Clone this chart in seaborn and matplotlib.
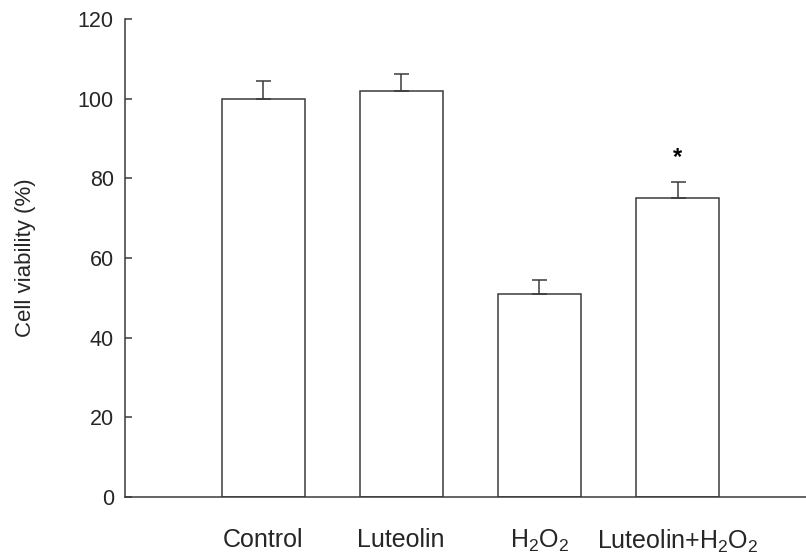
import matplotlib
matplotlib.use("Agg")
import matplotlib.pyplot as plt
import seaborn as sns
import pandas as pd
import numpy as np

categories = ["Control", "Luteolin", "H$_2$O$_2$", "Luteolin+H$_2$O$_2$"]
viability = [100.0, 102.0, 51.0, 75.0]
sem = [4.5, 4.2, 3.5, 4.2]
significance = ["", "", "", "*"]
yticks = [0, 20, 40, 60, 80, 100, 120]

sns.set_theme(style="white")
plt.rcParams["font.family"] = ["Liberation Sans", "DejaVu Sans"]
plt.rcParams["mathtext.fontset"] = "custom"
plt.rcParams["mathtext.rm"] = "Liberation Sans"
plt.rcParams["mathtext.it"] = "Liberation Sans"
plt.rcParams["mathtext.default"] = "regular"

line_col = "#3a3a3a"

df = pd.DataFrame({"group": categories, "viability": viability})

fig = plt.figure(figsize=(8.06, 5.57), dpi=100)
ax = fig.add_axes([0.155, 0.1077, 0.845, 0.858])

sns.barplot(data=df, x="group", y="viability", order=categories, color="white",
            edgecolor=line_col, linewidth=1.1, width=0.6, errorbar=None, ax=ax,
            saturation=1)

xpos = np.arange(len(categories))
ax.errorbar(xpos, viability, yerr=[np.zeros(len(sem)), sem], fmt="none",
            ecolor=line_col, elinewidth=1.1, capsize=5.4, capthick=1.1, zorder=3)

for x, v, e, s in zip(xpos, viability, sem, significance):
    if s:
        ax.text(x, v + e + 6.0, s, ha="center", va="center", fontsize=17,
                fontweight="bold", color="black")

ax.set_ylim(0, 120)
ax.set_xlim(-1.0, 3.93)
ax.set_yticks(yticks)
ax.set_yticklabels([str(t) for t in yticks], fontsize=15.5)
ax.set_xlabel("")
ax.set_ylabel("Cell viability (%)", fontsize=16, labelpad=30)
ax.tick_params(axis="y", direction="in", length=5, width=1.1, color=line_col, pad=8, left=True)
ax.tick_params(axis="x", length=0, pad=22, labelsize=18)

for side in ["top", "right"]:
    ax.spines[side].set_visible(False)
for side in ["left", "bottom"]:
    ax.spines[side].set_color(line_col)
    ax.spines[side].set_linewidth(1.1)

fig.savefig("out.png", dpi=100)
